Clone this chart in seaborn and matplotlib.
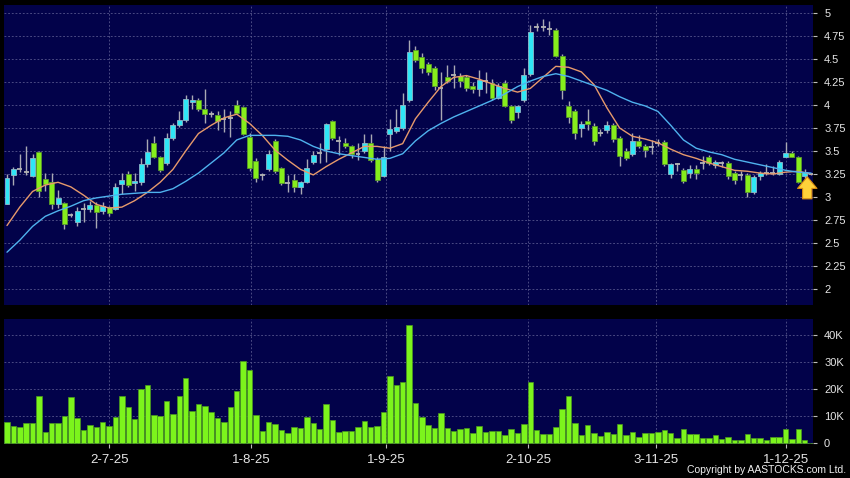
import numpy as np
import pandas as pd
import matplotlib
matplotlib.use("Agg")
import matplotlib.pyplot as plt
import seaborn as sns

# ---------------- data ----------------
opens = [2.92, 3.24, 3.30, 3.27, 3.23, 3.49, 3.20, 3.16, 2.92, 2.94,
         2.80, 2.73, 2.87, 2.87, 2.91, 2.85, 2.89, 2.87, 3.14, 3.25,
         3.15, 3.16, 3.36, 3.59, 3.43, 3.37, 3.64, 3.78, 3.84, 4.03,
         4.05, 3.96, 3.90, 3.89, 3.85, 3.86, 4.00, 3.98, 3.65, 3.39,
         3.24, 3.30, 3.61, 3.31, 3.15, 3.19, 3.11, 3.16, 3.38, 3.48,
         3.52, 3.83, 3.61, 3.59, 3.55, 3.47, 3.50, 3.59, 3.41, 3.23,
         3.69, 3.72, 3.75, 4.05, 4.60, 4.52, 4.45, 4.40, 4.19, 4.30,
         4.33, 4.32, 4.30, 4.21, 4.17, 4.26, 4.24, 4.08, 4.24, 3.99,
         3.92, 4.05, 4.34, 4.85, 4.85, 4.83, 4.82, 4.53, 3.99, 3.93,
         3.75, 3.83, 3.77, 3.70, 3.73, 3.78, 3.64, 3.50, 3.47, 3.61,
         3.55, 3.54, 3.59, 3.60, 3.25, 3.36, 3.29, 3.26, 3.30, 3.37,
         3.43, 3.35, 3.37, 3.37, 3.26, 3.24, 3.24, 3.05, 3.23, 3.26,
         3.26, 3.25, 3.44, 3.48, 3.43, 3.23, 3.25]

closes = [3.21, 3.30, 3.30, 3.27, 3.42, 3.07, 3.14, 2.92, 2.99, 2.71,
          2.80, 2.85, 2.87, 2.91, 2.84, 2.90, 2.83, 3.11, 3.18, 3.13,
          3.17, 3.36, 3.49, 3.43, 3.29, 3.64, 3.78, 3.84, 4.07, 4.05,
          3.96, 3.90, 3.90, 3.83, 3.85, 3.86, 3.91, 3.68, 3.31, 3.21,
          3.24, 3.47, 3.28, 3.15, 3.15, 3.11, 3.16, 3.31, 3.46, 3.48,
          3.79, 3.64, 3.61, 3.55, 3.47, 3.47, 3.59, 3.40, 3.19, 3.43,
          3.74, 3.76, 4.00, 4.58, 4.49, 4.40, 4.36, 4.21, 4.19, 4.26,
          4.33, 4.26, 4.18, 4.17, 4.27, 4.26, 4.08, 4.21, 3.99, 3.84,
          3.99, 4.33, 4.79, 4.85, 4.85, 4.83, 4.53, 4.16, 3.87, 3.70,
          3.79, 3.79, 3.61, 3.70, 3.78, 3.63, 3.45, 3.42, 3.61, 3.55,
          3.51, 3.54, 3.59, 3.36, 3.36, 3.36, 3.17, 3.30, 3.26, 3.37,
          3.37, 3.38, 3.37, 3.23, 3.19, 3.24, 3.05, 3.22, 3.26, 3.26,
          3.26, 3.38, 3.48, 3.44, 3.16, 3.27, 3.25]

highs = [3.25, 3.33, 3.47, 3.55, 3.47, 3.50, 3.26, 3.26, 3.08, 2.95,
         2.83, 2.89, 2.93, 2.96, 2.95, 2.95, 2.90, 3.15, 3.26, 3.28,
         3.26, 3.42, 3.63, 3.66, 3.45, 3.70, 3.80, 3.93, 4.11, 4.11,
         4.08, 4.17, 3.93, 3.93, 3.96, 3.94, 4.05, 3.99, 3.70, 3.42,
         3.26, 3.51, 3.63, 3.33, 3.24, 3.25, 3.17, 3.41, 3.50, 3.59,
         3.80, 3.84, 3.66, 3.64, 3.57, 3.59, 3.69, 3.69, 3.43, 3.55,
         3.85, 3.96, 4.13, 4.71, 4.64, 4.56, 4.47, 4.42, 4.36, 4.43,
         4.43, 4.35, 4.33, 4.25, 4.38, 4.36, 4.28, 4.24, 4.27, 4.00,
         4.00, 4.40, 4.87, 4.89, 4.93, 4.91, 4.84, 4.55, 4.04, 3.96,
         3.83, 3.96, 3.80, 3.74, 3.83, 3.80, 3.66, 3.53, 3.70, 3.67,
         3.58, 3.62, 3.63, 3.62, 3.37, 3.37, 3.31, 3.35, 3.35, 3.45,
         3.46, 3.40, 3.39, 3.39, 3.28, 3.28, 3.26, 3.24, 3.28, 3.36,
         3.34, 3.40, 3.60, 3.50, 3.45, 3.30, 3.26]

lows = [2.92, 3.13, 3.27, 3.24, 3.22, 3.00, 3.07, 2.87, 2.88, 2.65,
        2.78, 2.68, 2.73, 2.84, 2.66, 2.82, 2.79, 2.86, 3.03, 3.11,
        3.07, 3.13, 3.33, 3.42, 3.27, 3.35, 3.62, 3.76, 3.82, 3.96,
        3.93, 3.80, 3.87, 3.73, 3.71, 3.65, 3.90, 3.67, 3.28, 3.16,
        3.18, 3.28, 3.26, 3.13, 3.05, 3.05, 3.03, 3.15, 3.36, 3.37,
        3.38, 3.62, 3.46, 3.53, 3.42, 3.40, 3.48, 3.38, 3.16, 3.22,
        3.50, 3.70, 3.73, 4.03, 4.47, 4.35, 4.33, 4.16, 3.84, 4.24,
        4.18, 4.20, 4.15, 4.13, 4.10, 4.13, 4.05, 4.06, 3.98, 3.80,
        3.86, 4.03, 4.32, 4.80, 4.80, 4.76, 4.52, 4.07, 3.80, 3.63,
        3.65, 3.73, 3.57, 3.66, 3.70, 3.60, 3.34, 3.40, 3.45, 3.53,
        3.44, 3.47, 3.55, 3.34, 3.21, 3.28, 3.15, 3.21, 3.20, 3.30,
        3.35, 3.32, 3.33, 3.20, 3.14, 3.19, 3.00, 3.03, 3.19, 3.24,
        3.24, 3.24, 3.43, 3.43, 3.15, 3.21, 3.24]

volumes_k = [8.0, 6.4, 6.2, 7.6, 7.4, 17.5, 4.3, 7.4, 7.4, 10.1,
             17.2, 9.5, 4.9, 6.8, 6.2, 8.0, 6.4, 9.8, 17.6, 13.3,
             9.0, 20.1, 21.5, 10.5, 10.2, 15.8, 10.7, 17.5, 24.0, 11.9,
             14.6, 13.8, 11.6, 9.2, 7.8, 13.3, 19.4, 30.4, 27.1, 10.3,
             4.7, 8.0, 7.1, 4.9, 3.7, 5.9, 5.5, 9.6, 7.4, 5.2,
             14.5, 8.6, 4.3, 4.7, 4.4, 6.2, 8.2, 6.2, 6.4, 11.7,
             25.0, 21.5, 22.5, 43.7, 15.0, 9.6, 6.8, 5.5, 11.3, 5.5,
             4.7, 5.2, 5.5, 3.9, 6.4, 4.3, 4.6, 4.7, 3.1, 5.3,
             3.7, 7.1, 22.5, 4.9, 3.3, 3.4, 5.9, 12.7, 17.6, 7.4,
             3.0, 6.6, 3.7, 2.7, 4.2, 3.3, 7.0, 3.1, 4.1, 2.5,
             3.8, 3.7, 4.1, 4.9, 3.8, 2.0, 5.4, 3.4, 3.4, 1.8,
             1.8, 3.2, 1.6, 2.3, 1.2, 1.4, 3.3, 1.8, 1.8, 1.4,
             2.5, 2.3, 5.2, 1.5, 5.3, 1.1, 0.3]

ma_idx = list(range(0, 127, 2))
ma_fast = [2.69, 2.89, 3.06, 3.13, 3.16, 3.11, 3.02, 2.92, 2.88, 2.89,
           2.96, 3.05, 3.16, 3.30, 3.50, 3.69, 3.78, 3.86, 3.90, 3.80,
           3.67, 3.51, 3.40, 3.30, 3.24, 3.33, 3.41, 3.48, 3.55, 3.55,
           3.53, 3.58, 3.85, 4.03, 4.20, 4.30, 4.32, 4.28, 4.23, 4.18,
           4.14, 4.18, 4.30, 4.42, 4.41, 4.36, 4.22, 3.97, 3.75, 3.66,
           3.63, 3.59, 3.52, 3.46, 3.42, 3.37, 3.33, 3.29, 3.28, 3.26,
           3.25, 3.27, 3.28, 3.25]
ma_slow = [2.40, 2.53, 2.68, 2.79, 2.85, 2.90, 2.96, 2.99, 3.01, 3.03,
           3.04, 3.05, 3.05, 3.09, 3.17, 3.26, 3.37, 3.48, 3.62, 3.67,
           3.67, 3.67, 3.66, 3.62, 3.55, 3.50, 3.47, 3.45, 3.43, 3.41,
           3.42, 3.47, 3.61, 3.72, 3.80, 3.87, 3.93, 3.99, 4.05, 4.12,
           4.20, 4.26, 4.31, 4.34, 4.31, 4.26, 4.21, 4.16, 4.09, 4.03,
           3.99, 3.93, 3.78, 3.62, 3.53, 3.49, 3.46, 3.41, 3.38, 3.35,
           3.32, 3.29, 3.27, 3.26]

date_labels = ["2-7-25", "1-8-25", "1-9-25", "2-10-25", "3-11-25", "1-12-25"]
price_ticks = [2, 2.25, 2.5, 2.75, 3, 3.25, 3.5, 3.75, 4, 4.25, 4.5, 4.75, 5]
price_tick_labels = ["2", "2.25", "2.5", "2.75", "3", "3.25", "3.5", "3.75",
                     "4", "4.25", "4.5", "4.75", "5"]
vol_ticks_k = [0, 10, 20, 30, 40]
vol_tick_labels = ["0", "10K", "20K", "30K", "40K"]

# ---------------- layout constants ----------------
date_tick_pos = [16.0, 38.3, 59.4, 81.7, 101.7, 122.0]
XLIM = (-0.47, 126.3)
PANEL = "#02024a"
GRID = "#55558c"
TXT = "#e6e6e6"

df = pd.DataFrame({"idx": np.arange(len(opens)), "open": opens, "high": highs,
                   "low": lows, "close": closes,
                   "volume": np.array(volumes_k) * 1000})

sns.set_theme(style="dark")
plt.rcParams["font.family"] = ["Liberation Sans", "DejaVu Sans"]

fig = plt.figure(figsize=(8.5, 4.78), dpi=100, facecolor="black")
W, H = 850, 478
axp = fig.add_axes([4 / W, 1 - 305 / H, 809 / W, 300 / H])
axv = fig.add_axes([4 / W, 1 - 444 / H, 809 / W, 125 / H])

for ax in (axp, axv):
    ax.set_facecolor(PANEL)
    for s in ax.spines.values():
        s.set_visible(False)

# ---------------- candles ----------------
up = df[df.close > df.open]
dn = df[df.close < df.open]
dj = df[df.close == df.open]
bw = 0.78
axp.vlines(df.idx, df.low, df.high, color="#a9a9b4", lw=1.0, zorder=2)
axp.bar(up.idx, up.close - up.open, bottom=up.open, width=bw,
        color="#2fe6f6", edgecolor="#8fb8c8", linewidth=0.6, zorder=3)
axp.bar(dn.idx, dn.open - dn.close, bottom=dn.close, width=bw,
        color="#86ee1c", edgecolor="#5a9a2c", linewidth=0.6, zorder=3)
axp.hlines(dj.close, dj.idx - bw / 2, dj.idx + bw / 2, color="#b4b4b4",
           lw=1.3, zorder=3)

# moving averages
sns.lineplot(x=ma_idx, y=ma_fast, ax=axp, color="#e79a6c", lw=1.0, zorder=4)
sns.lineplot(x=ma_idx, y=ma_slow, ax=axp, color="#4fb2ee", lw=1.0, zorder=4)

# arrow marker on the last candle
axp.annotate("", xy=(125.4, 3.22), xytext=(125.4, 2.98),
             arrowprops=dict(arrowstyle="simple,head_length=0.6,head_width=1.0,tail_width=0.48",
                             fc="#ffd23a", ec="#d98c12", lw=0.8,
                             shrinkA=0, shrinkB=0, mutation_scale=14),
             zorder=6)

axp.set_xlim(*XLIM)
axp.set_ylim(1.826, 5.087)
axp.yaxis.tick_right()
axp.set_yticks(price_ticks)
axp.set_yticklabels(price_tick_labels)
axp.tick_params(axis="y", which="both", direction="out", length=3, width=0.8,
                pad=5, colors="#bdbdbd", labelcolor=TXT, labelsize=8,
                left=False, right=True)
axp.set_xticks(date_tick_pos)
axp.tick_params(axis="x", length=0, labelbottom=False)
axp.grid(True, color=GRID, ls=(0, (2.2, 2.2)), lw=0.6)
axp.set_axisbelow(True)
axp.set_xlabel("")
axp.set_ylabel("")

# ---------------- volume ----------------
sns.barplot(data=df, x="idx", y="volume", native_scale=True, width=0.86,
            color="#7cf41c", saturation=1, edgecolor="#4b9a1e", linewidth=0.5,
            errorbar=None, ax=axv, zorder=3)
axv.set_xlim(*XLIM)
axv.set_ylim(-250, 45900)
axv.yaxis.tick_right()
axv.set_yticks([v * 1000 for v in vol_ticks_k])
axv.set_yticklabels(vol_tick_labels)
axv.tick_params(axis="y", direction="out", length=3, width=0.8, pad=5,
                colors="#bdbdbd", labelcolor=TXT, labelsize=8,
                left=False, right=True)
axv.set_xticks(date_tick_pos)
axv.set_xticklabels(date_labels)
axv.tick_params(axis="x", direction="out", length=3, width=0.8, pad=4,
                colors="#bdbdbd", labelcolor=TXT, labelsize=9.5,
                bottom=True)
axv.grid(True, color=GRID, ls=(0, (2.2, 2.2)), lw=0.6)
axv.set_axisbelow(True)
axv.set_xlabel("")
axv.set_ylabel("")

fig.text(846 / W, 1 - 470 / H, "Copyright by AASTOCKS.com Ltd.", ha="right",
         va="center", color="#f0f0f0", fontsize=7.5)

fig.savefig("out.png", dpi=100, facecolor="black")
